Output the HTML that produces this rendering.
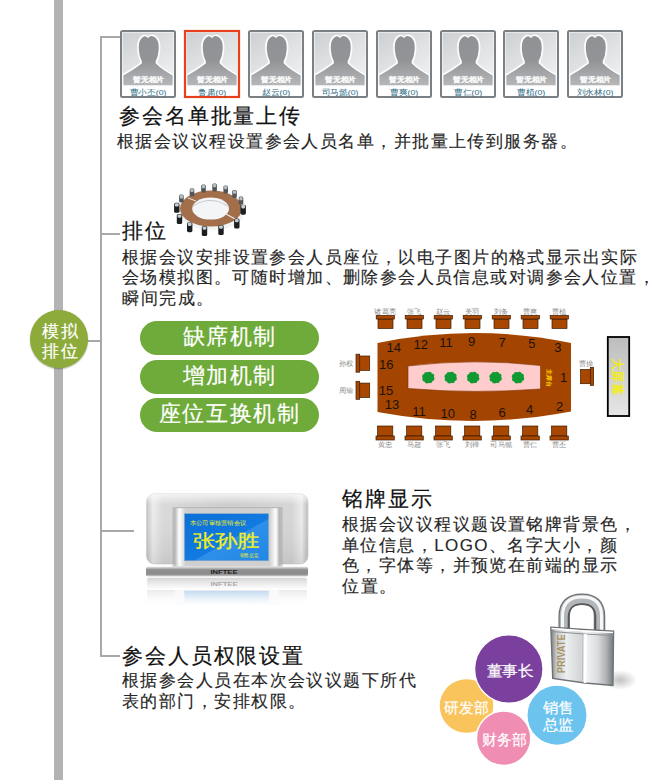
<!DOCTYPE html>
<html><head><meta charset="utf-8">
<style>
html,body{margin:0;padding:0;background:#fff;width:650px;height:780px;overflow:hidden;position:relative;font-family:"Liberation Sans",sans-serif;}
.a{position:absolute;}
.t{position:absolute;white-space:nowrap;font-size:21px;letter-spacing:1.8px;color:#111;line-height:24px;text-align:justify;text-align-last:justify;-webkit-text-stroke:0.2px #111;}
.d{position:absolute;white-space:nowrap;font-size:17px;letter-spacing:1.4px;color:#262626;line-height:20.7px;text-align:justify;text-align-last:justify;-webkit-text-stroke:0.15px #262626;}
.pill{position:absolute;left:140px;width:179px;height:34px;border-radius:17px;background:#6eab3a;color:#fff;font-size:22px;letter-spacing:1.3px;line-height:32px;text-align:center;}
.ct{-webkit-text-stroke:0.2px #fff;}
.pill span{display:inline-block;width:94px;white-space:nowrap;text-align:justify;text-align-last:justify;vertical-align:top;-webkit-text-stroke:0.2px #fff;}

.tofu .t{-webkit-text-stroke:1.3px #111;}
.tofu .d{-webkit-text-stroke:1.3px #262626;}
.tofu .d .lat{-webkit-text-stroke:0.15px #262626;}
.tofu .pill span,.tofu .ct{-webkit-text-stroke:1.2px #fff;}
.tofu .circ text{stroke-width:1.2px;}
.tofu .nm text{stroke:#1b5870;stroke-width:0.6px;}
</style></head><body>

<svg class="a" style="left:0;top:0" width="650" height="780" viewBox="0 0 650 780">
<defs>
<linearGradient id="pg" x1="0" y1="0" x2="0.6" y2="1"><stop offset="0" stop-color="#cdd0d2"/><stop offset="1" stop-color="#eeefef"/></linearGradient>
<symbol id="ph" viewBox="0 0 56 68" width="56" height="68">
<rect x="0" y="0" width="56" height="68" rx="1.5" fill="#fff"/>
<rect x="2.5" y="2.5" width="51" height="53.5" fill="url(#pg)"/>
<path d="M21 31.5 C17.5 25 17 14 19.5 9.5 C22 5 25.5 4.5 28 7 C30.5 4 35.5 5 38 9.5 C40.5 14 40 25 36.5 31.5 L36.5 33 C41 37.5 47 41.5 53.5 45 L53.5 56 L2.5 56 L2.5 45 C9 41.5 15 37.5 21 33 Z" fill="url(#sil)" stroke="#fdfdfd" stroke-width="1.7"/>
<text x="28.5" y="52.3" font-size="7" fill="#ffffff" stroke="#ffffff" stroke-width="0.25" text-anchor="middle" font-weight="bold" opacity="0.9" textLength="31" lengthAdjust="spacingAndGlyphs">暂无相片</text>
<rect x="1" y="1" width="54" height="66" rx="1.5" fill="none" stroke="#7b8085" stroke-width="2"/>
</symbol>
<linearGradient id="sil" x1="0" y1="0" x2="0" y2="1"><stop offset="0" stop-color="#8f9194"/><stop offset="0.5" stop-color="#929497"/><stop offset="1" stop-color="#b6b8ba"/></linearGradient>
</defs>
<use href="#ph" x="120" y="30"/>
<use href="#ph" x="184" y="30"/>
<use href="#ph" x="248" y="30"/>
<use href="#ph" x="312" y="30"/>
<use href="#ph" x="376" y="30"/>
<use href="#ph" x="440" y="30"/>
<use href="#ph" x="503" y="30"/>
<use href="#ph" x="567" y="30"/>
<rect x="185" y="31" width="54" height="66" fill="none" stroke="#e8401c" stroke-width="2.2"/>
<g class="nm" font-size="8" fill="#2f6d86" text-anchor="middle">
<text x="148" y="95" textLength="37" lengthAdjust="spacingAndGlyphs">曹小丕(0)</text>
<text x="212" y="95" textLength="28.5" lengthAdjust="spacingAndGlyphs">鲁肃(0)</text>
<text x="276" y="95" textLength="28.5" lengthAdjust="spacingAndGlyphs">赵云(0)</text>
<text x="340" y="95" textLength="37" lengthAdjust="spacingAndGlyphs">司马懿(0)</text>
<text x="404" y="95" textLength="28.5" lengthAdjust="spacingAndGlyphs">曹爽(0)</text>
<text x="468" y="95" textLength="28.5" lengthAdjust="spacingAndGlyphs">曹仁(0)</text>
<text x="531" y="95" textLength="28.5" lengthAdjust="spacingAndGlyphs">曹植(0)</text>
<text x="595" y="95" textLength="37" lengthAdjust="spacingAndGlyphs">刘永林(0)</text>
</g>
<g id="conf">
<ellipse cx="212" cy="211" rx="33" ry="19.5" fill="#e6eaec" opacity="0.55"/>
<ellipse cx="211" cy="208.5" rx="31" ry="18" fill="#a36e4a"/>
<ellipse cx="210.6" cy="208.6" rx="18.4" ry="11" fill="#f3f5f6"/>
<path d="M193 206 Q210 195 228 206" fill="none" stroke="#c2ccd1" stroke-width="1.2"/>
<path d="M226 214 L236 219.5" stroke="#e4e9ec" stroke-width="1.4"/><path d="M188 198 L196 201" stroke="#e4e9ec" stroke-width="1"/>
<rect x="189.7" y="188.2" width="4.6" height="8" rx="1.5" fill="#50565a"/><rect x="190.4" y="188.6" width="3.2" height="3.4" rx="1" fill="#b8bfc3"/>
<rect x="201.2" y="184.5" width="4.6" height="8" rx="1.5" fill="#50565a"/><rect x="201.9" y="184.9" width="3.2" height="3.4" rx="1" fill="#b8bfc3"/>
<rect x="212.3" y="183.5" width="4.6" height="8" rx="1.5" fill="#50565a"/><rect x="213.0" y="183.9" width="3.2" height="3.4" rx="1" fill="#b8bfc3"/>
<rect x="223.4" y="185.4" width="4.6" height="8" rx="1.5" fill="#50565a"/><rect x="224.1" y="185.8" width="3.2" height="3.4" rx="1" fill="#b8bfc3"/>
<rect x="232.2" y="190.0" width="4.6" height="8" rx="1.5" fill="#50565a"/><rect x="232.9" y="190.4" width="3.2" height="3.4" rx="1" fill="#b8bfc3"/>
<rect x="238.7" y="196.5" width="4.6" height="8" rx="1.5" fill="#50565a"/><rect x="239.4" y="196.9" width="3.2" height="3.4" rx="1" fill="#b8bfc3"/>
<rect x="179.1" y="194.6" width="4.6" height="8" rx="1.5" fill="#50565a"/><rect x="179.8" y="195.0" width="3.2" height="3.4" rx="1" fill="#b8bfc3"/>
<rect x="240.5" y="204.7" width="5.4" height="10" rx="1.6" fill="#1c1f21"/><rect x="241.3" y="205.1" width="3.8" height="3.3" rx="1.1" fill="#c8ced1"/>
<rect x="234.1" y="218.5" width="5.4" height="10" rx="1.6" fill="#1c1f21"/><rect x="234.9" y="218.9" width="3.8" height="3.3" rx="1.1" fill="#c8ced1"/>
<rect x="218.3" y="225.0" width="5.4" height="10" rx="1.6" fill="#1c1f21"/><rect x="219.1" y="225.4" width="3.8" height="3.3" rx="1.1" fill="#c8ced1"/>
<rect x="201.8" y="226.0" width="5.4" height="10" rx="1.6" fill="#1c1f21"/><rect x="202.6" y="226.4" width="3.8" height="3.3" rx="1.1" fill="#c8ced1"/>
<rect x="187.0" y="222.2" width="5.4" height="10" rx="1.6" fill="#1c1f21"/><rect x="187.8" y="222.6" width="3.8" height="3.3" rx="1.1" fill="#c8ced1"/>
<rect x="176.8" y="214.0" width="5.4" height="10" rx="1.6" fill="#1c1f21"/><rect x="177.6" y="214.4" width="3.8" height="3.3" rx="1.1" fill="#c8ced1"/>
<rect x="174.1" y="202.8" width="5.4" height="10" rx="1.6" fill="#1c1f21"/><rect x="174.9" y="203.2" width="3.8" height="3.3" rx="1.1" fill="#c8ced1"/>
</g>
<defs>
<linearGradient id="bodyg" x1="0" y1="0" x2="1" y2="0"><stop offset="0" stop-color="#c4c4c4"/><stop offset="0.04" stop-color="#ececec"/><stop offset="0.1" stop-color="#dadada"/><stop offset="0.5" stop-color="#cdcdcd"/><stop offset="0.9" stop-color="#d6d6d6"/><stop offset="0.96" stop-color="#ebebeb"/><stop offset="1" stop-color="#bdbdbd"/></linearGradient>
<linearGradient id="bodyv" x1="0" y1="0" x2="0" y2="1"><stop offset="0" stop-color="#fff" stop-opacity="0.7"/><stop offset="0.15" stop-color="#fff" stop-opacity="0"/><stop offset="1" stop-color="#000" stop-opacity="0.08"/></linearGradient>
<linearGradient id="frameg" x1="0" y1="0" x2="1" y2="0"><stop offset="0" stop-color="#b8b8b8"/><stop offset="0.04" stop-color="#ffffff"/><stop offset="0.1" stop-color="#d0d0d0"/><stop offset="0.9" stop-color="#d0d0d0"/><stop offset="0.96" stop-color="#ffffff"/><stop offset="1" stop-color="#aaaaaa"/></linearGradient>
<linearGradient id="scrg" x1="0" y1="0" x2="1" y2="1"><stop offset="0" stop-color="#0b6fd8"/><stop offset="0.55" stop-color="#127ae0"/><stop offset="0.56" stop-color="#2e8fe8"/><stop offset="1" stop-color="#2088e4"/></linearGradient>
<linearGradient id="baseg" x1="0" y1="0" x2="0" y2="1"><stop offset="0" stop-color="#ececec"/><stop offset="0.18" stop-color="#b4b4b4"/><stop offset="0.32" stop-color="#8f8f8f"/><stop offset="0.75" stop-color="#8c8c8c"/><stop offset="0.9" stop-color="#bdbdbd"/><stop offset="1" stop-color="#f2f2f2"/></linearGradient>
<linearGradient id="reflg" x1="0" y1="0" x2="0" y2="1"><stop offset="0" stop-color="#d8d8d8" stop-opacity="0.8"/><stop offset="1" stop-color="#ffffff" stop-opacity="0"/></linearGradient>
</defs>
<rect x="146.5" y="494" width="161.5" height="70" rx="8" fill="url(#bodyg)" stroke="#cfcfcf" stroke-width="0.8"/>
<rect x="146.5" y="494" width="161.5" height="70" rx="8" fill="url(#bodyv)"/>
<rect x="172.5" y="507" width="110" height="60" fill="#a9a9a9" opacity="0.6"/>
<rect x="175" y="508.2" width="105" height="58" fill="url(#frameg)"/>
<rect x="184.4" y="513.6" width="84.3" height="47.2" fill="url(#scrg)" stroke="#9ab" stroke-width="0.5"/>
<g class="cj" fill="#f0f020" font-family="Liberation Sans,sans-serif"><text x="190" y="524.5" font-size="5.5" textLength="56" lengthAdjust="spacingAndGlyphs">本公司审核营销会议</text><text x="192.5" y="546.5" font-size="17.5" textLength="67" lengthAdjust="spacingAndGlyphs" stroke="#f0f020" stroke-width="0.3">张孙胜</text><text x="239.6" y="557" font-size="5" textLength="19" lengthAdjust="spacingAndGlyphs">销售总监</text></g>
<rect x="146" y="566.5" width="162" height="10.3" rx="2" fill="url(#baseg)"/>
<text x="224" y="573.8" font-size="6" font-weight="bold" fill="#1e1e1e" text-anchor="middle" textLength="27" lengthAdjust="spacingAndGlyphs">INFTEE</text>
<defs><linearGradient id="rfl2" x1="0" y1="0" x2="0" y2="1"><stop offset="0" stop-color="#c4c4c4" stop-opacity="0.75"/><stop offset="1" stop-color="#e8e8e8" stop-opacity="0.2"/></linearGradient>
<linearGradient id="rfl3" x1="0" y1="0" x2="0" y2="1"><stop offset="0" stop-color="#dcdcdc" stop-opacity="0.6"/><stop offset="1" stop-color="#ffffff" stop-opacity="0"/></linearGradient></defs>
<rect x="147" y="577.8" width="160" height="11" rx="2" fill="url(#rfl2)"/>
<text x="224" y="585.5" font-size="6" font-weight="bold" fill="#9a9a9a" text-anchor="middle" textLength="27" lengthAdjust="spacingAndGlyphs" opacity="0.8">INFTEE</text>
<rect x="147" y="590" width="160" height="16" fill="url(#rfl3)"/>
<rect x="175" y="590" width="9" height="15" fill="#fafafa" opacity="0.8"/><rect x="269" y="590" width="10" height="15" fill="#fafafa" opacity="0.8"/>
<rect x="184.4" y="591" width="84.3" height="14" fill="url(#rfl4)"/>
<defs><linearGradient id="rfl4" x1="0" y1="0" x2="0" y2="1"><stop offset="0" stop-color="#b9d6f3" stop-opacity="0.8"/><stop offset="1" stop-color="#e6f0fa" stop-opacity="0.1"/></linearGradient></defs>
<defs>
<linearGradient id="shg" x1="0" y1="0" x2="1" y2="0"><stop offset="0" stop-color="#8a8d90"/><stop offset="0.2" stop-color="#e8eaeb"/><stop offset="0.45" stop-color="#9ea1a4"/><stop offset="0.7" stop-color="#f2f3f4"/><stop offset="1" stop-color="#7c7f82"/></linearGradient>
<linearGradient id="lockf" x1="0" y1="0" x2="1" y2="0"><stop offset="0" stop-color="#76797c"/><stop offset="0.09" stop-color="#c9cbcd"/><stop offset="0.25" stop-color="#eceeef"/><stop offset="0.48" stop-color="#d2d4d6"/><stop offset="0.55" stop-color="#f4f5f6"/><stop offset="0.75" stop-color="#d9dbdd"/><stop offset="0.88" stop-color="#b0b3b6"/><stop offset="1" stop-color="#75787b"/></linearGradient>
<radialGradient id="lsh" cx="0.5" cy="0.5" r="0.5"><stop offset="0" stop-color="#999" stop-opacity="0.6"/><stop offset="1" stop-color="#999" stop-opacity="0"/></radialGradient>
</defs>
<ellipse cx="620" cy="680" rx="17" ry="10" fill="url(#lsh)"/>
<path d="M564.2 636 L564.2 616 Q564.2 599.3 582 599.3 Q599.5 599.3 599.5 616 L599.5 638" fill="none" stroke="#6c6f72" stroke-width="11.5"/>
<path d="M564.2 636 L564.2 616 Q564.2 599.3 582 599.3 Q599.5 599.3 599.5 616 L599.5 638" fill="none" stroke="#b4b7ba" stroke-width="9"/>
<path d="M562.5 636 L562.5 616 Q562.5 597 582 597 Q601.5 597 601.5 616 L601.5 636" fill="none" stroke="#f6f7f8" stroke-width="3"/>
<path d="M568.5 636 L568.5 617 Q569 604 582 604 Q595.5 604 595.5 617 L595.5 638" fill="none" stroke="#55585b" stroke-width="1.6"/>
<path d="M550.8 627.2 L584 629.5 L613.6 631 L613 685.5 L585 683 L552.7 678.5 Z" fill="url(#lockf)" stroke="#6f7275" stroke-width="1.3"/>
<path d="M551.5 631.5 L584 634 L613 635.5" fill="none" stroke="#8d9093" stroke-width="1"/>
<path d="M551.5 628.5 L584 631 L613 632.5" fill="none" stroke="#ffffff" stroke-width="1.3"/>
<path d="M585.5 634 L585 683" stroke="#ffffff" stroke-width="2.5"/>
<path d="M582.8 634 L582.5 682.5" stroke="#aeb1b4" stroke-width="0.8"/>
<text transform="translate(565,673.3) rotate(-90)" font-size="10" font-weight="bold" fill="#a89466" font-family="Liberation Sans,sans-serif" textLength="39" lengthAdjust="spacingAndGlyphs">PRIVATE</text>
<g stroke="#fff" stroke-width="1.5">
<circle cx="466.5" cy="706" r="27.5" fill="#f9c45c"/>
<circle cx="508.8" cy="669" r="34.3" fill="#7b3f9d"/>
<circle cx="503.6" cy="738.2" r="27.2" fill="#ef8db2"/>
<circle cx="557" cy="715.2" r="30.2" fill="#6cc4ee"/>
</g>
<g class="circ" fill="#fff" stroke="#fff" stroke-width="0.2" font-size="15" text-anchor="middle" font-family="Liberation Sans,sans-serif">
<text x="510" y="676" textLength="47" lengthAdjust="spacingAndGlyphs">董事长</text>
<text x="466.6" y="712.8" font-size="14.5" textLength="44.5" lengthAdjust="spacingAndGlyphs">研发部</text>
<text x="504.5" y="745" textLength="44.5" lengthAdjust="spacingAndGlyphs">财务部</text>
<text x="558" y="712.8" font-size="15" textLength="31" lengthAdjust="spacingAndGlyphs">销售</text><text x="558" y="729.8" font-size="15" textLength="31" lengthAdjust="spacingAndGlyphs">总监</text>
</g>
<g id="seat">
<path d="M377.5 343 Q474 323 571 343 L571 411.5 Q474 430 377.5 412 Z" fill="#a34500"/>
<path d="M408 366 Q474 358 540.5 365.5 L540.5 389 Q474 394 408 388.5 Z" fill="#fecccc" stroke="#7a3300" stroke-width="0.6"/>
<g fill="#119a33"><circle cx="428.3" cy="377.6" r="4.6"/><circle cx="432.12" cy="378.69" r="2.4"/><circle cx="430.17" cy="380.87" r="2.4"/><circle cx="427.12" cy="381.13" r="2.4"/><circle cx="424.76" cy="379.33" r="2.4"/><circle cx="424.48" cy="376.51" r="2.4"/><circle cx="426.43" cy="374.33" r="2.4"/><circle cx="429.48" cy="374.07" r="2.4"/><circle cx="431.84" cy="375.87" r="2.4"/></g>
<g fill="#119a33"><circle cx="450.7" cy="377.6" r="4.6"/><circle cx="454.52" cy="378.69" r="2.4"/><circle cx="452.57" cy="380.87" r="2.4"/><circle cx="449.52" cy="381.13" r="2.4"/><circle cx="447.16" cy="379.33" r="2.4"/><circle cx="446.88" cy="376.51" r="2.4"/><circle cx="448.83" cy="374.33" r="2.4"/><circle cx="451.88" cy="374.07" r="2.4"/><circle cx="454.24" cy="375.87" r="2.4"/></g>
<g fill="#119a33"><circle cx="473.2" cy="377.6" r="4.6"/><circle cx="477.02" cy="378.69" r="2.4"/><circle cx="475.07" cy="380.87" r="2.4"/><circle cx="472.02" cy="381.13" r="2.4"/><circle cx="469.66" cy="379.33" r="2.4"/><circle cx="469.38" cy="376.51" r="2.4"/><circle cx="471.33" cy="374.33" r="2.4"/><circle cx="474.38" cy="374.07" r="2.4"/><circle cx="476.74" cy="375.87" r="2.4"/></g>
<g fill="#119a33"><circle cx="495.6" cy="377.6" r="4.6"/><circle cx="499.42" cy="378.69" r="2.4"/><circle cx="497.47" cy="380.87" r="2.4"/><circle cx="494.42" cy="381.13" r="2.4"/><circle cx="492.06" cy="379.33" r="2.4"/><circle cx="491.78" cy="376.51" r="2.4"/><circle cx="493.73" cy="374.33" r="2.4"/><circle cx="496.78" cy="374.07" r="2.4"/><circle cx="499.14" cy="375.87" r="2.4"/></g>
<g fill="#119a33"><circle cx="518" cy="377.6" r="4.6"/><circle cx="521.82" cy="378.69" r="2.4"/><circle cx="519.87" cy="380.87" r="2.4"/><circle cx="516.82" cy="381.13" r="2.4"/><circle cx="514.46" cy="379.33" r="2.4"/><circle cx="514.18" cy="376.51" r="2.4"/><circle cx="516.13" cy="374.33" r="2.4"/><circle cx="519.18" cy="374.07" r="2.4"/><circle cx="521.54" cy="375.87" r="2.4"/></g>
<rect x="378" y="319" width="15" height="9.5" fill="#a84800" stroke="#3d1a00" stroke-width="0.7"/>
<rect x="376.2" y="315.4" width="18.2" height="3.6" fill="#a84800" stroke="#3d1a00" stroke-width="0.7"/>
<rect x="377.6" y="426" width="15.2" height="10" fill="#a84800" stroke="#3d1a00" stroke-width="0.7"/>
<rect x="376" y="436" width="18.3" height="4" fill="#a84800" stroke="#3d1a00" stroke-width="0.7"/>
<rect x="407" y="319" width="15" height="9.5" fill="#a84800" stroke="#3d1a00" stroke-width="0.7"/>
<rect x="405.2" y="315.4" width="18.2" height="3.6" fill="#a84800" stroke="#3d1a00" stroke-width="0.7"/>
<rect x="406.6" y="426" width="15.2" height="10" fill="#a84800" stroke="#3d1a00" stroke-width="0.7"/>
<rect x="405" y="436" width="18.3" height="4" fill="#a84800" stroke="#3d1a00" stroke-width="0.7"/>
<rect x="436" y="319" width="15" height="9.5" fill="#a84800" stroke="#3d1a00" stroke-width="0.7"/>
<rect x="434.2" y="315.4" width="18.2" height="3.6" fill="#a84800" stroke="#3d1a00" stroke-width="0.7"/>
<rect x="435.6" y="426" width="15.2" height="10" fill="#a84800" stroke="#3d1a00" stroke-width="0.7"/>
<rect x="434" y="436" width="18.3" height="4" fill="#a84800" stroke="#3d1a00" stroke-width="0.7"/>
<rect x="465" y="319" width="15" height="9.5" fill="#a84800" stroke="#3d1a00" stroke-width="0.7"/>
<rect x="463.2" y="315.4" width="18.2" height="3.6" fill="#a84800" stroke="#3d1a00" stroke-width="0.7"/>
<rect x="464.6" y="426" width="15.2" height="10" fill="#a84800" stroke="#3d1a00" stroke-width="0.7"/>
<rect x="463" y="436" width="18.3" height="4" fill="#a84800" stroke="#3d1a00" stroke-width="0.7"/>
<rect x="494" y="319" width="15" height="9.5" fill="#a84800" stroke="#3d1a00" stroke-width="0.7"/>
<rect x="492.2" y="315.4" width="18.2" height="3.6" fill="#a84800" stroke="#3d1a00" stroke-width="0.7"/>
<rect x="493.6" y="426" width="15.2" height="10" fill="#a84800" stroke="#3d1a00" stroke-width="0.7"/>
<rect x="492" y="436" width="18.3" height="4" fill="#a84800" stroke="#3d1a00" stroke-width="0.7"/>
<rect x="523" y="319" width="15" height="9.5" fill="#a84800" stroke="#3d1a00" stroke-width="0.7"/>
<rect x="521.2" y="315.4" width="18.2" height="3.6" fill="#a84800" stroke="#3d1a00" stroke-width="0.7"/>
<rect x="522.6" y="426" width="15.2" height="10" fill="#a84800" stroke="#3d1a00" stroke-width="0.7"/>
<rect x="521" y="436" width="18.3" height="4" fill="#a84800" stroke="#3d1a00" stroke-width="0.7"/>
<rect x="552" y="319" width="15" height="9.5" fill="#a84800" stroke="#3d1a00" stroke-width="0.7"/>
<rect x="550.2" y="315.4" width="18.2" height="3.6" fill="#a84800" stroke="#3d1a00" stroke-width="0.7"/>
<rect x="551.6" y="426" width="15.2" height="10" fill="#a84800" stroke="#3d1a00" stroke-width="0.7"/>
<rect x="550" y="436" width="18.3" height="4" fill="#a84800" stroke="#3d1a00" stroke-width="0.7"/>
<rect x="359.7" y="356" width="10" height="14.4" fill="#a84800" stroke="#3d1a00" stroke-width="0.7"/>
<rect x="356" y="354.2" width="3.7" height="18" fill="#a84800" stroke="#3d1a00" stroke-width="0.7"/>
<rect x="359.7" y="383.1" width="10" height="14.4" fill="#a84800" stroke="#3d1a00" stroke-width="0.7"/>
<rect x="356" y="381.3" width="3.7" height="18" fill="#a84800" stroke="#3d1a00" stroke-width="0.7"/>
<rect x="580.5" y="369.5" width="9.8" height="14.2" fill="#a84800" stroke="#3d1a00" stroke-width="0.7"/>
<rect x="590.3" y="367.3" width="3.3" height="18.2" fill="#a84800" stroke="#3d1a00" stroke-width="0.7"/>
<defs><linearGradient id="sg" x1="0" y1="0" x2="0" y2="1"><stop offset="0" stop-color="#bdbdbd"/><stop offset="1" stop-color="#e6e6e6"/></linearGradient></defs>
<rect x="607.8" y="337" width="21.4" height="79" fill="url(#sg)" stroke="#000" stroke-width="1.8"/>
<text transform="translate(613,376.5) rotate(90)" font-size="12.5" fill="#f5f000" stroke="#f5f000" stroke-width="0.3" text-anchor="middle" textLength="37.5" lengthAdjust="spacingAndGlyphs">大屏幕</text>
<text transform="translate(547,377.5) rotate(90)" font-size="6" fill="#ffcc00" text-anchor="middle" font-weight="bold" textLength="18" lengthAdjust="spacingAndGlyphs">主席台</text>
<g class="cj lbl" font-size="7" fill="#8c8c8c" text-anchor="middle" font-family="Liberation Sans,sans-serif">
<text x="385.2" y="313.5" textLength="22" lengthAdjust="spacingAndGlyphs">诸葛亮</text>
<text x="385.2" y="447" textLength="14.5" lengthAdjust="spacingAndGlyphs">黄忠</text>
<text x="414.2" y="313.5" textLength="14.5" lengthAdjust="spacingAndGlyphs">张飞</text>
<text x="414.2" y="447" textLength="14.5" lengthAdjust="spacingAndGlyphs">马超</text>
<text x="443.2" y="313.5" textLength="14.5" lengthAdjust="spacingAndGlyphs">赵云</text>
<text x="443.2" y="447" textLength="14.5" lengthAdjust="spacingAndGlyphs">张飞</text>
<text x="472.2" y="313.5" textLength="14.5" lengthAdjust="spacingAndGlyphs">关羽</text>
<text x="472.2" y="447" textLength="14.5" lengthAdjust="spacingAndGlyphs">刘禅</text>
<text x="501.2" y="313.5" textLength="14.5" lengthAdjust="spacingAndGlyphs">刘备</text>
<text x="501.2" y="447" textLength="22" lengthAdjust="spacingAndGlyphs">司马懿</text>
<text x="530.2" y="313.5" textLength="14.5" lengthAdjust="spacingAndGlyphs">曹爽</text>
<text x="530.2" y="447" textLength="14.5" lengthAdjust="spacingAndGlyphs">曹仁</text>
<text x="559.2" y="313.5" textLength="14.5" lengthAdjust="spacingAndGlyphs">曹植</text>
<text x="559.2" y="447" textLength="14.5" lengthAdjust="spacingAndGlyphs">曹丕</text>
<text x="346" y="365.7" textLength="14.5" lengthAdjust="spacingAndGlyphs">孙权</text><text x="346" y="393" textLength="14.5" lengthAdjust="spacingAndGlyphs">周瑜</text><text x="586" y="365.8" textLength="14.5" lengthAdjust="spacingAndGlyphs">曹操</text>
</g>
<g font-size="13" fill="#1c1208" text-anchor="middle" font-family="Liberation Sans,sans-serif">
<text x="393.7" y="351.7">14</text>
<text x="420.8" y="348.9">12</text>
<text x="446" y="347.2">11</text>
<text x="471.5" y="345.5">9</text>
<text x="502" y="346.5">7</text>
<text x="531.8" y="347.59999999999997">5</text>
<text x="557.8" y="351.7">3</text>
<text x="386.2" y="369.2">16</text>
<text x="386" y="394.9">15</text>
<text x="563.6" y="382.09999999999997">1</text>
<text x="392" y="409.09999999999997">13</text>
<text x="419" y="415.9">11</text>
<text x="447.8" y="417.7">10</text>
<text x="473.2" y="418.7">8</text>
<text x="502" y="416.9">6</text>
<text x="529.7" y="414.2">4</text>
<text x="559.5" y="410.7">2</text>
</g></g>
</svg>

<!-- left gray bar -->
<div class="a" style="left:54px;top:0;width:9px;height:780px;background:#b3b3b3"></div>
<!-- thin tree line -->
<div class="a" style="left:100px;top:36px;width:2px;height:621px;background:#a8a8a8"></div>
<div class="a" style="left:100px;top:36px;width:20px;height:2px;background:#a8a8a8"></div>
<div class="a" style="left:100px;top:233px;width:20px;height:2px;background:#a8a8a8"></div>
<div class="a" style="left:100px;top:530px;width:34px;height:2px;background:#a8a8a8"></div>
<div class="a" style="left:100px;top:655px;width:20px;height:2px;background:#a8a8a8"></div>
<div class="a" style="left:86px;top:340px;width:14px;height:2px;background:#a8a8a8"></div>

<!-- green circle -->
<div class="a" style="left:30px;top:310px;width:58px;height:58px;border-radius:50%;background:#8dab3a;box-shadow:0 1px 1.5px rgba(60,70,20,0.45)"></div>
<div class="a ct" style="left:41.5px;top:322px;width:36px;color:#fff;font-size:17px;line-height:19.5px;letter-spacing:0;white-space:nowrap;text-align:justify;text-align-last:justify;">模拟</div><div class="a ct" style="left:41.5px;top:341.5px;width:36px;color:#fff;font-size:17px;line-height:19.5px;letter-spacing:0;white-space:nowrap;text-align:justify;text-align-last:justify;">排位</div>

<!-- section 1 -->
<div class="t" style="left:119px;top:104px;width:183px">参会名单批量上传</div>
<div class="d" style="left:117px;top:132px;width:461px">根据会议议程设置参会人员名单，并批量上传到服务器。</div>

<!-- section 2 -->
<div class="t" style="left:122px;top:219px;width:46px">排位</div>
<div class="d" style="left:122px;top:247.5px;width:516px">根据会议安排设置参会人员座位，以电子图片的格式显示出实际</div>
<div class="d" style="left:122px;top:268.2px;width:534px">会场模拟图。可随时增加、删除参会人员信息或对调参会人位置，</div>
<div class="d" style="left:122px;top:288.9px;width:92.5px">瞬间完成。</div>

<div class="pill" style="top:321px"><span>缺席机制</span></div>
<div class="pill" style="top:360px"><span>增加机制</span></div>
<div class="pill" style="top:398px"><span style="width:142px">座位互换机制</span></div>

<!-- section 3 -->
<div class="t" style="left:342px;top:487px;width:91.5px">铭牌显示</div>
<div class="d" style="left:342px;top:515px;width:295px">根据会议议程议题设置铭牌背景色，</div>
<div class="d" style="left:342px;top:535.7px;width:276px">单位信息，<span class="lat">LOGO</span>、名字大小，颜</div>
<div class="d" style="left:342px;top:556.4px;width:276.5px">色，字体等，并预览在前端的显示</div>
<div class="d" style="left:342px;top:577.1px;width:55.5px">位置。</div>

<!-- section 4 -->
<div class="t" style="left:122px;top:644px;width:183px">参会人员权限设置</div>
<div class="d" style="left:122px;top:671px;width:295px">根据参会人员在本次会议议题下所代</div>
<div class="d" style="left:122px;top:691.7px;width:184.5px">表的部门，安排权限。</div>

<script>
(function(){try{var c=document.createElement('canvas');c.width=48;c.height=48;var x=c.getContext('2d');
x.font='36px "Liberation Sans", sans-serif';x.fillStyle='#000';
x.fillText('\u53c2',4,40);var a=x.getImageData(0,0,48,48).data.join(',');
x.clearRect(0,0,48,48);x.fillText('\u4f1a',4,40);var b=x.getImageData(0,0,48,48).data.join(',');
if(a===b){document.documentElement.className+=' tofu';}}catch(e){}})();
</script>
</body></html>
